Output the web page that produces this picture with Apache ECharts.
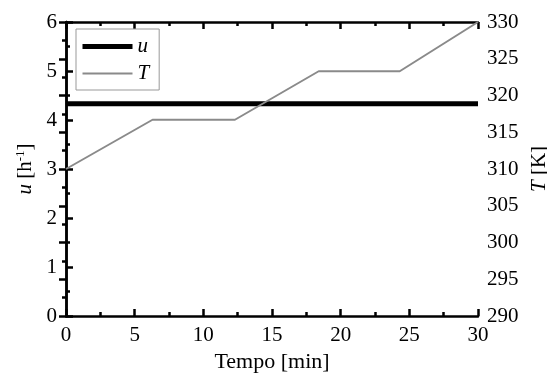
<!DOCTYPE html>
<html>
<head>
<meta charset="utf-8">
<script src="https://cdn.jsdelivr.net/npm/echarts@6/dist/echarts.min.js"></script>
<style>
  html, body { margin: 0; padding: 0; background: #fff; }
  #chart { width: 547px; height: 377px; }
</style>
</head>
<body>
<div id="chart"></div>
<script>
// dati
const timeU = [0, 30];
const valuesU = [4.33, 4.33];
const timeT = [0, 6.3, 12.3, 18.4, 24.3, 30];
const valuesT = [310, 316.7, 316.7, 323.3, 323.3, 330];

const serif = "Liberation Serif";
const axisLine = { lineStyle: { color: "#000", width: 2.5 } };
const axisTick = { inside: true, length: 7, lineStyle: { color: "#000", width: 2.5 } };
const minorTick = { show: true, splitNumber: 2, length: 4, lineStyle: { color: "#000", width: 2.5 } };
const labelStyle = { color: "#000", fontFamily: serif, fontSize: 21 };

const chart = echarts.init(document.getElementById("chart"));

const option = {
  animation: false,
  backgroundColor: "#fff",
  grid: { left: 66, right: 69, top: 22, bottom: 61, containLabel: false, outerBoundsMode: "none" },
  legend: {
    orient: "vertical",
    left: 76,
    top: 29,
    padding: [7, 10, 6, 4],
    itemGap: 6,
    itemWidth: 50,
    itemHeight: 20,
    borderColor: "#999",
    borderWidth: 1,
    itemStyle: { opacity: 0 },
    textStyle: { color: "#000", fontFamily: serif, fontSize: 21, fontStyle: "italic" },
    data: [
      { name: "u", lineStyle: { width: 5 } },
      { name: "T", lineStyle: { width: 2 } },
    ],
  },
  xAxis: [
    {
      type: "value",
      min: 0,
      max: 30,
      interval: 5,
      name: "Tempo [min]",
      nameLocation: "middle",
      nameGap: 33,
      nameTextStyle: { color: "#000", fontFamily: serif, fontSize: 22 },
      axisLine: axisLine,
      axisTick: axisTick,
      minorTick: minorTick,
      axisLabel: Object.assign({ margin: 9 }, labelStyle),
      splitLine: { show: false },
    },
    {
      type: "value",
      position: "top",
      min: 0,
      max: 30,
      interval: 5,
      axisLine: axisLine,
      axisTick: axisTick,
      minorTick: minorTick,
      axisLabel: { show: false },
      splitLine: { show: false },
    },
  ],
  yAxis: [
    {
      type: "value",
      min: 0,
      max: 6,
      interval: 1,
      name: "{i|u} [h{s|-1}]",
      nameLocation: "middle",
      nameRotate: 90,
      nameGap: 30,
      nameTextStyle: {
        color: "#000",
        fontFamily: serif,
        fontSize: 21,
        rich: {
          i: { fontFamily: serif, fontSize: 21, fontStyle: "italic", color: "#000" },
          s: { fontFamily: serif, fontSize: 13, color: "#000", verticalAlign: "top", padding: [0, 0, 9, 0] },
        },
      },
      axisLine: axisLine,
      axisTick: axisTick,
      minorTick: minorTick,
      axisLabel: Object.assign({ margin: 9 }, labelStyle),
      splitLine: { show: false },
    },
    {
      type: "value",
      position: "right",
      min: 290,
      max: 330,
      interval: 5,
      name: "{i|T} [K]",
      nameLocation: "middle",
      nameRotate: 90,
      nameGap: 51,
      nameTextStyle: {
        color: "#000",
        fontFamily: serif,
        fontSize: 21,
        rich: {
          i: { fontFamily: serif, fontSize: 21, fontStyle: "italic", color: "#000" },
        },
      },
      axisLine: axisLine,
      axisTick: axisTick,
      minorTick: minorTick,
      axisLabel: Object.assign({ margin: 9 }, labelStyle),
      splitLine: { show: false },
    },
  ],
  series: [
    {
      name: "u",
      type: "line",
      xAxisIndex: 0,
      yAxisIndex: 0,
      showSymbol: false,
      symbol: "none",
      color: "#000",
      lineStyle: { color: "#000", width: 5 },
      data: timeU.map((t, i) => [t, valuesU[i]]),
    },
    {
      name: "T",
      type: "line",
      xAxisIndex: 0,
      yAxisIndex: 1,
      showSymbol: false,
      symbol: "none",
      color: "#8a8a8a",
      lineStyle: { color: "#8a8a8a", width: 2 },
      data: timeT.map((t, i) => [t, valuesT[i]]),
    },
  ],
};

chart.setOption(option);
</script>
</body>
</html>
